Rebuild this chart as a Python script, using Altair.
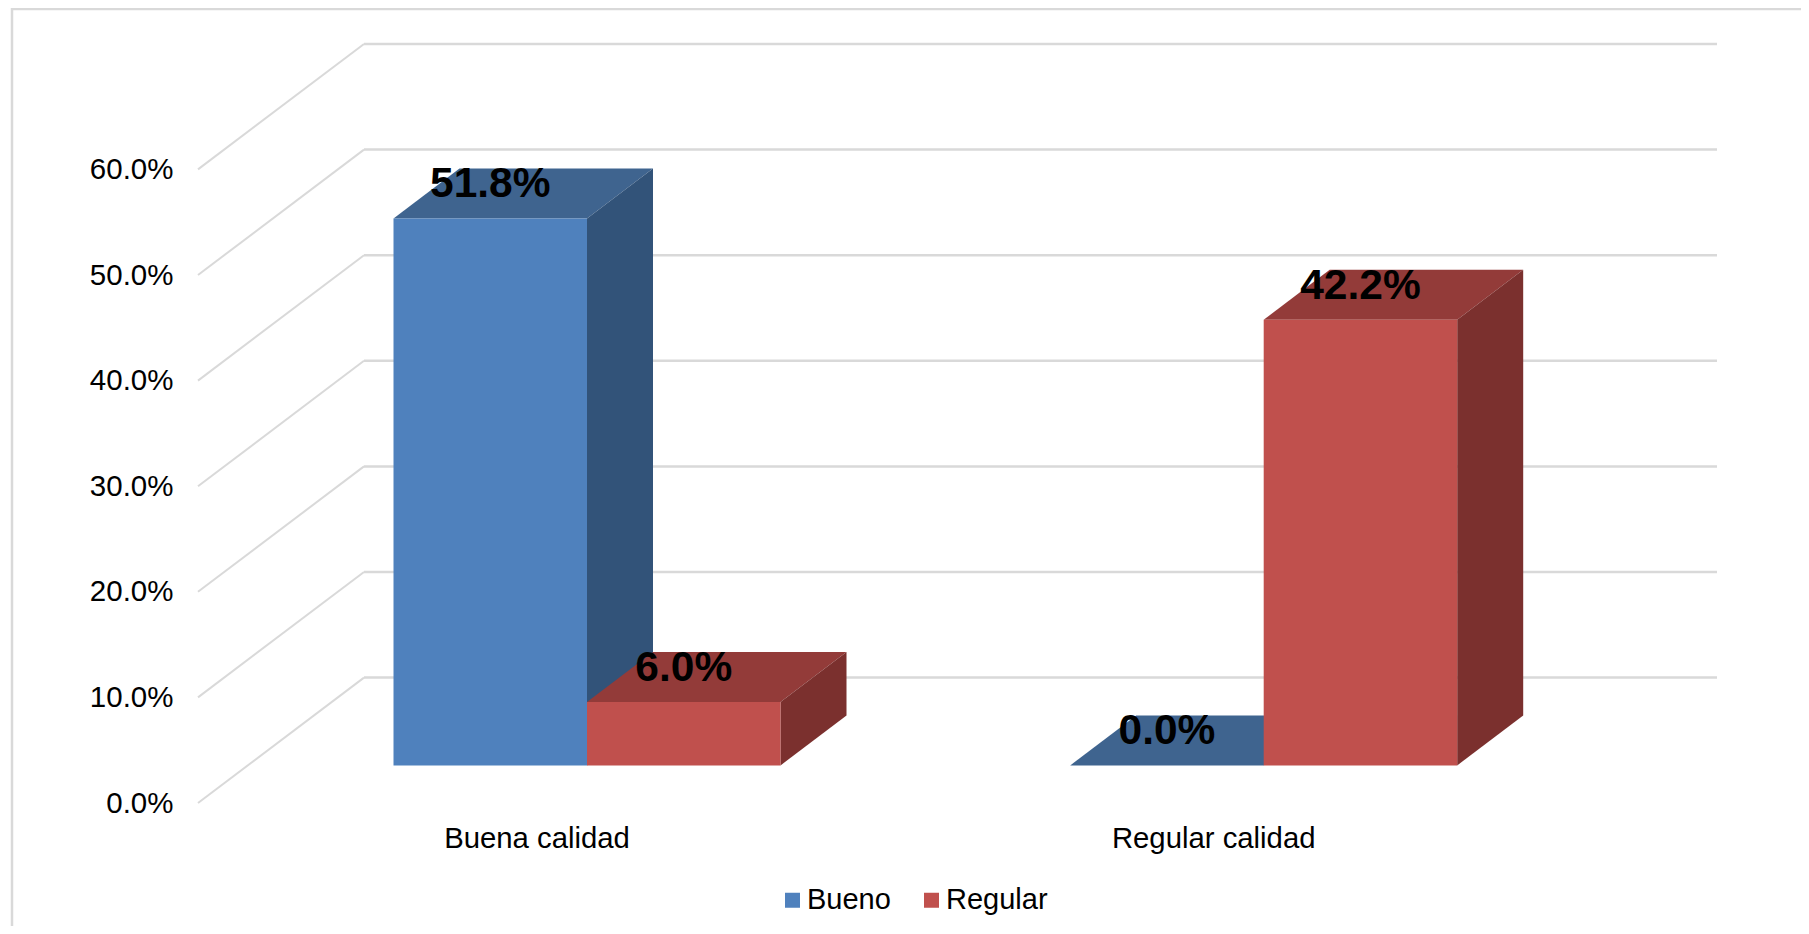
import altair as alt
import pandas as pd

categories = ["Buena calidad", "Regular calidad"]
series_names = ["Bueno", "Regular"]
bueno = [51.8, 0.0]
regular = [6.0, 42.2]
ticks = [0, 10, 20, 30, 40, 50, 60]

W, H = 1793, 918
PX_Y = 10.56           # pixels per percentage point
PX_X = 676.7           # pixels between the two categories
ZERO_X, ZERO_Y = 579.0, 795.0

BAR_W = 193.5 / PX_X
DEPTH_X = 66 / PX_X
DEPTH_Y = 50 / PX_Y
BASE_Y = 37.6 / PX_Y
FLOOR_X = 166 / PX_X
FLOOR_Y = 125.4 / PX_Y
AXIS_LEFT = (190 - ZERO_X) / PX_X
WALL_RIGHT = (1709 - ZERO_X) / PX_X
LABEL_SHIFT = -50 / PX_X
LABEL_Y = -45.3 / PX_Y

GRID = "#D9D9D9"
FRONT = {"Bueno": "#4F81BD", "Regular": "#C0504D"}
TOP = {"Bueno": "#3F648F", "Regular": "#933B39"}
SIDE = {"Bueno": "#325379", "Regular": "#7B302E"}
FONT = "Liberation Sans"

xs = alt.Scale(domain=[-ZERO_X / PX_X, (W - ZERO_X) / PX_X], range=[0, W], nice=False, zero=False)
ys = alt.Scale(domain=[(ZERO_Y - H) / PX_Y, ZERO_Y / PX_Y], range=[H, 0], nice=False, zero=False)
y_axis = alt.Axis(
    values=ticks, title=None, grid=False, domain=False, ticks=False, orient="left",
    offset=-165, labelPadding=0, labelFont=FONT, labelFontSize=29.5, labelColor="#000000",
    labelExpr="format(datum.value, '.1f') + '%'", labelBaseline="middle", labelOverlap=False,
)


def X(f):
    return alt.X(f, type="quantitative", scale=xs, axis=None)


def Y(f):
    return alt.Y(f, type="quantitative", scale=ys, axis=y_axis)


# gridlines on wall and floor
wall = pd.DataFrame({
    "x": [AXIS_LEFT + FLOOR_X] * len(ticks),
    "x2": [WALL_RIGHT] * len(ticks),
    "y": [t + FLOOR_Y for t in ticks],
})
slant = pd.DataFrame({
    "x": [AXIS_LEFT] * len(ticks),
    "x2": [AXIS_LEFT + FLOOR_X] * len(ticks),
    "y": ticks,
    "y2": [t + FLOOR_Y for t in ticks],
})

axis_layer = alt.Chart(slant).mark_rule(color=GRID, strokeWidth=2).encode(
    x=X("x"), x2="x2:Q", y=Y("y"), y2="y2:Q",
)
wall_layer = alt.Chart(wall).mark_rule(color=GRID, strokeWidth=2.5).encode(
    x=X("x"), x2="x2:Q", y=Y("y"),
)

# chart frame
frame_left = alt.Chart(pd.DataFrame({"a": [0]})).mark_rule(color=GRID, strokeWidth=2.5).encode(
    x=alt.value(4), y=alt.value(0), y2=alt.value(H))
frame_top = alt.Chart(pd.DataFrame({"a": [0]})).mark_rule(color=GRID, strokeWidth=2.5).encode(
    y=alt.value(1), x=alt.value(4), x2=alt.value(W))

# bars
layers = []
labels = []
for s_i, (name, values) in enumerate(zip(series_names, [bueno, regular])):
    top_rows, side_rows, front_rows = [], [], []
    for c_i, v in enumerate(values):
        x0 = c_i + (s_i - 1) * BAR_W
        x1 = x0 + BAR_W
        yb = BASE_Y
        yt = v + BASE_Y
        key = f"{name}{c_i}"
        for x, lo, hi in [
            (x0, yt, yt),
            (x0 + DEPTH_X, yt, yt + DEPTH_Y),
            (x1, yt, yt + DEPTH_Y),
            (x1 + DEPTH_X, yt + DEPTH_Y, yt + DEPTH_Y),
        ]:
            top_rows.append({"k": key, "x": x, "y": lo, "y2": hi})
        for x, lo, hi in [(x1, yb, yt), (x1 + DEPTH_X, yb + DEPTH_Y, yt + DEPTH_Y)]:
            side_rows.append({"k": key, "x": x, "y": lo, "y2": hi})
        front_rows.append({"series": name, "x": x0, "x2": x1, "y": yb, "y2": yt})
        labels.append({"x": (x0 + x1) / 2, "y": yt, "t": f"{v:.1f}%"})
    for rows, colour in [(top_rows, TOP[name]), (side_rows, SIDE[name])]:
        layers.append(
            alt.Chart(pd.DataFrame(rows)).mark_area(color=colour, interpolate="linear", orient="vertical").encode(
                x=X("x"), y=Y("y"), y2="y2:Q", detail="k:N",
            )
        )
    layers.append(
        alt.Chart(pd.DataFrame(front_rows)).mark_rect().encode(
            x=X("x"), x2="x2:Q", y=Y("y"), y2="y2:Q",
            color=alt.Color(
                "series:N",
                scale=alt.Scale(domain=series_names, range=[FRONT[n] for n in series_names]),
                legend=alt.Legend(
                    title=None, orient="none", legendX=770, legendY=877.5, direction="horizontal",
                    symbolType="square", symbolSize=225, symbolStrokeWidth=0, labelFont=FONT,
                    labelFontSize=29, labelColor="#000000", labelOffset=0, columnPadding=26,
                    padding=0,
                ),
            ),
        )
    )

value_text = alt.Chart(pd.DataFrame(labels)).mark_text(
    font=FONT, fontSize=42.5, fontWeight="bold", color="#000000", baseline="alphabetic", dy=-21,
).encode(x=X("x"), y=Y("y"), text="t:N")

cat_text = alt.Chart(pd.DataFrame({
    "x": [i + LABEL_SHIFT for i in range(len(categories))],
    "y": [LABEL_Y] * len(categories),
    "t": categories,
})).mark_text(font=FONT, fontSize=29.3, color="#000000", baseline="alphabetic").encode(
    x=X("x"), y=Y("y"), text="t:N")

chart = alt.layer(frame_left, frame_top, axis_layer, wall_layer, *layers, value_text, cat_text).properties(
    width=W, height=H, padding=0, autosize=alt.AutoSizeParams(type="none"), background="white",
).configure_view(stroke=None)

chart.save("out.html", embed_options={"renderer": "svg", "actions": False})
